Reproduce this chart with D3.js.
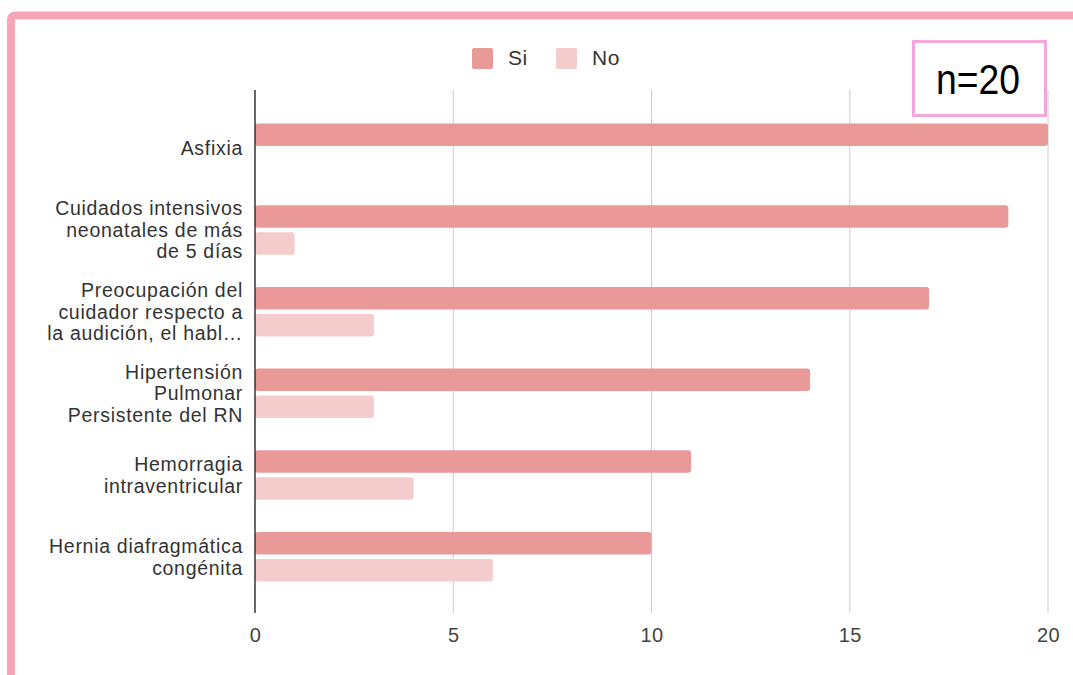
<!DOCTYPE html>
<html>
<head>
<meta charset="utf-8">
<script src="https://cdn.jsdelivr.net/npm/d3@7"></script>
<style>
  html, body { margin: 0; padding: 0; background: #fff; }
  svg { display: block; }
</style>
</head>
<body>
<svg id="chart" width="1073" height="675"></svg>
<script>
// ---- data ----
const categories = [
  ["Asfixia"],
  ["Cuidados intensivos", "neonatales de más", "de 5 días"],
  ["Preocupación del", "cuidador respecto a", "la audición, el habl…"],
  ["Hipertensión", "Pulmonar", "Persistente del RN"],
  ["Hemorragia", "intraventricular"],
  ["Hernia diafragmática", "congénita"]
];
const seriesNames = ["Si", "No"];
const siValues = [20, 19, 17, 14, 11, 10];
const noValues = [0, 1, 3, 3, 4, 6];
const xTicks = [0, 5, 10, 15, 20];
const annotation = "n=20";

const colors = { Si: "#ea9999", No: "#f4cccc" };
const font = "'Liberation Sans', Arial, sans-serif";

const svg = d3.select("#chart");

// outer pink frame
svg.append("rect")
  .attr("x", 11).attr("y", 15.5)
  .attr("width", 1200).attr("height", 800)
  .attr("rx", 4)
  .attr("fill", "#fff")
  .attr("stroke", "#f4a6b8")
  .attr("stroke-width", 8);

const x = d3.scaleLinear().domain([0, 20]).range([255, 1048]);
const idx = categories.map((d, i) => i);
const y = d3.scalePoint().domain(idx).range([91, 614]).padding(0.7);

const plotTop = 90, plotBottom = 613;

// gridlines
svg.append("g").selectAll("line")
  .data(xTicks.filter(t => t !== 0))
  .join("line")
  .attr("x1", d => x(d)).attr("x2", d => x(d))
  .attr("y1", plotTop).attr("y2", plotBottom)
  .attr("stroke", "#cccccc").attr("stroke-width", 1);

// x axis tick labels via d3 axis
const xAxis = d3.axisBottom(x).tickValues(xTicks).tickSize(0).tickPadding(0).tickFormat(d3.format("d"));
const gx = svg.append("g").attr("transform", `translate(0, ${plotBottom + 29})`).call(xAxis);
gx.select(".domain").remove();
gx.selectAll("text")
  .attr("dy", 0)
  .attr("y", 0)
  .attr("font-family", font)
  .attr("font-size", 20)
  .attr("letter-spacing", 0.5)
  .attr("fill", "#444");

// bars
const barH = 22.5, gap = 4.5;
const bars = svg.append("g");
bars.selectAll("rect.si")
  .data(siValues)
  .join("rect")
  .attr("class", "si")
  .attr("x", x(0))
  .attr("y", (d, i) => y(i) - gap / 2 - barH)
  .attr("width", d => x(d) - x(0))
  .attr("height", barH)
  .attr("rx", 3)
  .attr("fill", colors.Si);
bars.selectAll("rect.no")
  .data(noValues)
  .join("rect")
  .attr("class", "no")
  .attr("x", x(0))
  .attr("y", (d, i) => y(i) + gap / 2)
  .attr("width", d => x(d) - x(0))
  .attr("height", barH)
  .attr("rx", 3)
  .attr("fill", colors.No);

// zero axis line
svg.append("line")
  .attr("x1", x(0)).attr("x2", x(0))
  .attr("y1", plotTop).attr("y2", plotBottom)
  .attr("stroke", "#333").attr("stroke-width", 1.5);

// category labels
const lineH = 21.5;
const labels = svg.append("g");
categories.forEach((lines, i) => {
  const t = labels.append("text")
    .attr("text-anchor", "end")
    .attr("font-family", font)
    .attr("font-size", 19.5)
    .attr("letter-spacing", 0.7)
    .attr("fill", "#333");
  const n = lines.length;
  lines.forEach((ln, j) => {
    t.append("tspan")
      .attr("x", 243)
      .attr("y", y(i) + (j - (n - 1) / 2) * lineH + 7)
      .text(ln);
  });
});

// legend
const legend = svg.append("g");
const legendPos = [{ sx: 472, tx: 508 }, { sx: 556, tx: 592 }];
seriesNames.forEach((s, i) => {
  legend.append("rect")
    .attr("x", legendPos[i].sx).attr("y", 48)
    .attr("width", 21).attr("height", 21)
    .attr("rx", 2)
    .attr("fill", colors[s]);
  legend.append("text")
    .attr("x", legendPos[i].tx).attr("y", 65)
    .attr("font-family", font)
    .attr("font-size", 21)
    .attr("letter-spacing", 0.5)
    .attr("fill", "#333")
    .text(s);
});

// n=20 annotation box
svg.append("rect")
  .attr("x", 913.5).attr("y", 41.5)
  .attr("width", 132).attr("height", 74)
  .attr("fill", "#fff")
  .attr("stroke", "#f3a6db")
  .attr("stroke-width", 3);
svg.append("text")
  .attr("x", 978).attr("y", 94)
  .attr("text-anchor", "middle")
  .attr("font-family", "'Liberation Sans', Arial, sans-serif")
  .attr("font-size", 43)
  .attr("textLength", 84)
  .attr("lengthAdjust", "spacingAndGlyphs")
  .attr("fill", "#000")
  .text(annotation);
</script>
</body>
</html>
